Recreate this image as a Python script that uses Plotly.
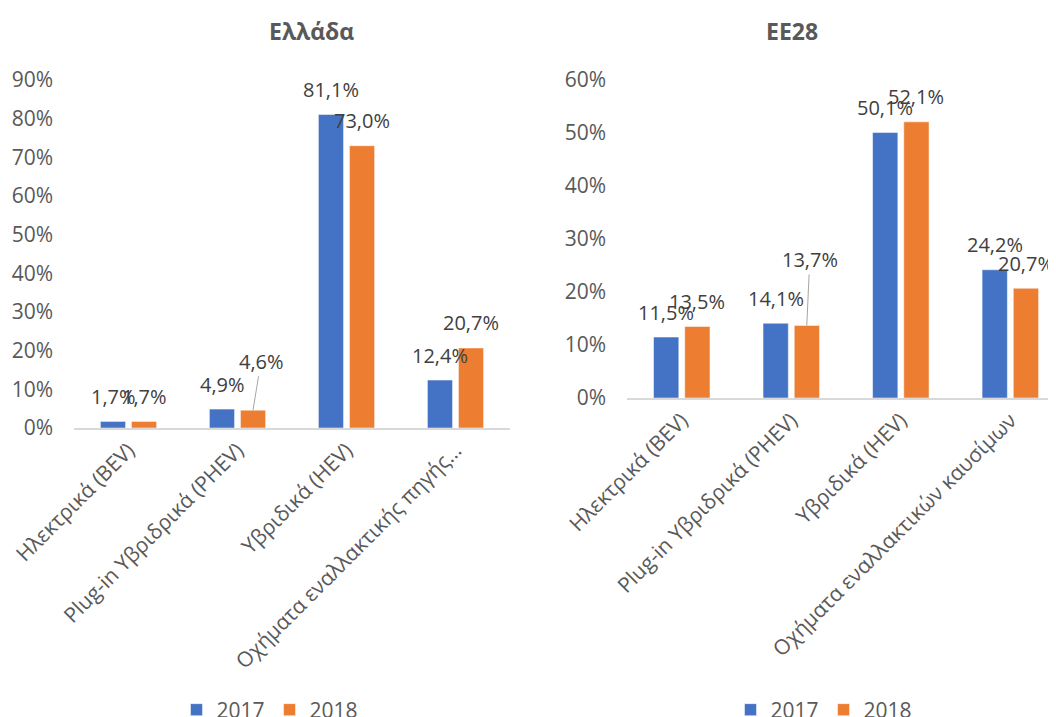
import plotly.graph_objects as go

# Data (percent)
years = ["2017", "2018"]
greece_cats = ["Ηλεκτρικά (BEV)", "Plug-in Υβριδρικά (PHEV)", "Υβριδικά (HEV)",
               "Οχήματα εναλλακτικής πηγής…"]
eu_cats = ["Ηλεκτρικά (BEV)", "Plug-in Υβριδρικά (PHEV)", "Υβριδικά (HEV)",
           "Οχήματα εναλλακτικών καυσίμων"]
greece_2017 = [1.7, 4.9, 81.1, 12.4]
greece_2018 = [1.7, 4.6, 73.0, 20.7]
eu_2017 = [11.5, 14.1, 50.1, 24.2]
eu_2018 = [13.5, 13.7, 52.1, 20.7]
greece_ticks = [0, 10, 20, 30, 40, 50, 60, 70, 80, 90]
eu_ticks = [0, 10, 20, 30, 40, 50, 60]

BLUE = "#4472C4"
ORANGE = "#ED7D31"
FONT = "Open Sans"
AXIS_TXT = "#595959"
LABEL_TXT = "#404040"

W, H = 1056, 717
OFF = 8  # page body margin


def fx(px):
    return (px - OFF) / W


def fy(py):
    return 1 - (py - OFF) / H


fig = go.Figure()

panels = [
    ("x", "y", "legend", greece_cats, greece_2017, greece_2018),
    ("x2", "y2", "legend2", eu_cats, eu_2017, eu_2018),
]
for xa, ya, leg, cats, v17, v18 in panels:
    for name, vals, col in [(years[0], v17, BLUE), (years[1], v18, ORANGE)]:
        fig.add_trace(go.Bar(
            x=cats, y=vals, name=name, marker_color=col,
            marker_line=dict(color="white", width=0.5),
            xaxis=xa, yaxis=ya, legend=leg,
        ))


def fmt(v):
    return f"{v:.1f}%".replace(".", ",")


# data labels, with leader lines for a couple of displaced ones
leaders = {("x", 1, 1): (8, -49), ("x2", 1, 1): (3, -66)}
for xa, ya, leg, cats, v17, v18 in panels:
    for s, vals in enumerate([v17, v18]):
        shift = -15.5 if s == 0 else 15.5
        for i, v in enumerate(vals):
            key = (xa, i, s)
            common = dict(x=cats[i], y=v, xref=xa, yref=ya, text=fmt(v),
                          font=dict(family=FONT, size=20, color=LABEL_TXT))
            if key in leaders:
                ax, ay = leaders[key]
                fig.add_annotation(**common, xshift=shift, showarrow=True,
                                   arrowhead=0, arrowwidth=1, arrowcolor="#A6A6A6",
                                   ax=ax, ay=ay, standoff=0)
            else:
                fig.add_annotation(**common, xshift=shift, yshift=25,
                                   showarrow=False, yanchor="middle")

# chart titles
for tx, title in [(267, "Ελλάδα"), (820, "ΕΕ28")]:
    fig.add_annotation(x=fx(tx), y=fy(31), xref="paper", yref="paper",
                       yanchor="middle", text=f"<b>{title}</b>", showarrow=False,
                       font=dict(family=FONT, size=23, color=AXIS_TXT))

axis_font = dict(family=FONT, size=21, color=AXIS_TXT)
xcommon = dict(type="category", showgrid=False, showline=True, linecolor="#D9D9D9",
               linewidth=1.5, tickangle=-45, tickfont=axis_font, ticks="",
               zeroline=False, fixedrange=True, automargin=False)
ycommon = dict(showgrid=False, showline=False, zeroline=False,
               tickfont=axis_font, ticklabelstandoff=20, fixedrange=True,
               automargin=False, tickmode="array")
legend_common = dict(orientation="h", xanchor="center", y=fy(710), yanchor="middle",
                     font=dict(family=FONT, size=21, color=AXIS_TXT))

fig.update_layout(
    width=W, height=H,
    margin=dict(l=0, r=0, t=0, b=0, autoexpand=False),
    paper_bgcolor="white", plot_bgcolor="white",
    barmode="group", bargap=0.43, bargroupgap=0.19,
    font=dict(family=FONT, color=AXIS_TXT),
    xaxis=dict(xcommon, domain=[fx(74), fx(510)], range=[-0.5, 3.5], anchor="y"),
    yaxis=dict(ycommon, domain=[fy(428), fy(80)], range=[0, 90],
               tickvals=greece_ticks, ticktext=[f"{t}%" for t in greece_ticks],
               anchor="x"),
    xaxis2=dict(xcommon, domain=[fx(627), 1.0], range=[-0.5, 3.49], anchor="y2"),
    yaxis2=dict(ycommon, domain=[fy(398), fy(80)], range=[0, 60],
                tickvals=eu_ticks, ticktext=[f"{t}%" for t in eu_ticks],
                anchor="x2"),
    legend=dict(legend_common, x=fx(270)),
    legend2=dict(legend_common, x=fx(824)),
    showlegend=True,
)

fig.write_html("out.html")
